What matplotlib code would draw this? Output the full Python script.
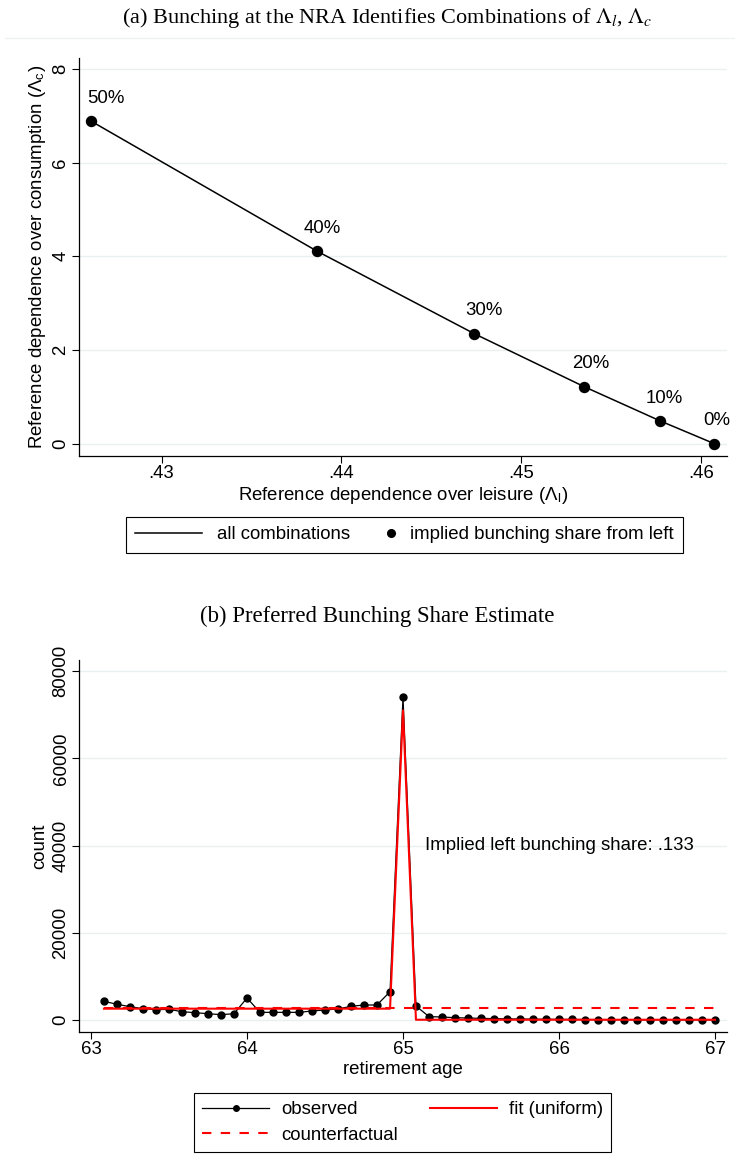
import matplotlib
matplotlib.use("Agg")
import matplotlib.pyplot as plt
from matplotlib.lines import Line2D
from matplotlib.legend_handler import HandlerLine2D

# panel (a): bunching share -> (lambda_l, lambda_c)
share_labels = ["50%", "40%", "30%", "20%", "10%", "0%"]
lam_l = [0.42607, 0.43863, 0.44739, 0.4535, 0.45774, 0.46074]
lam_c = [6.888, 4.113, 2.348, 1.217, 0.484, 0.0]

# panel (b): monthly retirement counts
age = [63.083, 63.167, 63.25, 63.333, 63.417, 63.5, 63.583, 63.667, 63.75, 63.833, 63.917,
       64.0, 64.083, 64.167, 64.25, 64.333, 64.417, 64.5, 64.583, 64.667, 64.75, 64.833, 64.917,
       65.0, 65.083, 65.167, 65.25, 65.333, 65.417, 65.5, 65.583, 65.667, 65.75, 65.833, 65.917,
       66.0, 66.083, 66.167, 66.25, 66.333, 66.417, 66.5, 66.583, 66.667, 66.75, 66.833, 66.917,
       67.0]
observed = [4290, 3600, 3060, 2600, 2370, 2450, 1910, 1680, 1450, 1220, 1450,
            5050, 1760, 1760, 1760, 1760, 2070, 2300, 2530, 3140, 3440, 3440, 6500,
            74000, 3210, 770, 690, 530, 450, 380, 310, 260, 230, 200, 170,
            150, 130, 110, 100, 90, 80, 70, 60, 50, 45, 40, 35,
            30]
fit = [2600, 2600, 2600, 2600, 2600, 2600, 2600, 2600, 2600, 2600, 2600,
       2600, 2600, 2600, 2600, 2600, 2600, 2600, 2600, 2600, 2600, 2600, 2600,
       71000, 60, 60, 60, 60, 60, 60, 60, 60, 60, 60, 60,
       60, 60, 60, 60, 60, 60, 60, 60, 60, 60, 60, 60,
       60]
counterfactual = 2830
bunch_share = ".133"

plt.rcParams["font.family"] = ["Liberation Sans", "DejaVu Sans"]
plt.rcParams["mathtext.fontset"] = "stix"


class RightMarker(HandlerLine2D):
    # put the legend dot at the right end of the key, next to its text
    def get_xdata(self, legend, xdescent, ydescent, width, height, fontsize):
        t = -xdescent + width - 3
        return [t - 1, t + 1], [t]


W, H = 735, 1173
fig = plt.figure(figsize=(W / 100, H / 100), dpi=100)
grid_col = "#e9f0f2"
fs = 13.4

# titles
fig.text(387 / W, 1 - 18 / H, r"(a) Bunching at the NRA Identifies Combinations of $\Lambda_l$, $\Lambda_c$",
         ha="center", va="center", family="Liberation Serif", fontsize=16)
fig.add_artist(Line2D([5 / W, 1], [1 - 38 / H, 1 - 38 / H], color="#edf1f3", lw=1))
fig.text(377 / W, 1 - 616 / H, "(b) Preferred Bunching Share Estimate",
         ha="center", va="center", family="Liberation Serif", fontsize=16.4)

# ---- panel (a)
ax1 = fig.add_axes([79 / W, 1 - 455.7 / H, (727 - 79) / W, (455.7 - 58) / H])
ax1.plot(lam_l, lam_c, color="black", lw=1.1)
ax1.plot(lam_l, lam_c, "o", color="black", ms=7.2, ls="none")
label_dx = [11, 4, 7, 5, 3, 2]
for x, y, s, dx in zip(lam_l, lam_c, share_labels, label_dx):
    ax1.annotate(s, (x, y), xytext=(dx, 16.5), textcoords="offset points",
                 ha="center", va="center", fontsize=fs)
ax1.set_xlim(0.42541, 0.46144)
ax1.set_ylim(-0.256, 8.233)
ax1.set_xticks([0.43, 0.44, 0.45, 0.46])
ax1.set_xticklabels([".43", ".44", ".45", ".46"])
ax1.set_yticks([0, 2, 4, 6, 8])
ax1.set_xlabel(r"Reference dependence over leisure (Λ$_\mathregular{l}$)", fontsize=fs, labelpad=2)
ax1.set_ylabel(r"Reference dependence over consumption (Λ$_\mathregular{c}$)", fontsize=fs, labelpad=3)

dot = Line2D([], [], color="black", marker="o", ms=5.5, ls="none")
leg1 = fig.legend(handles=[Line2D([], [], color="black", lw=1.1), dot],
                  labels=["all combinations", "implied bunching share from left"],
                  handler_map={dot: RightMarker(numpoints=1)},
                  ncol=2, loc="upper left", bbox_to_anchor=(126 / W, 1 - 517 / H),
                  borderaxespad=0, fontsize=fs, frameon=True, fancybox=False,
                  edgecolor="black", framealpha=1, handlelength=3.6, handletextpad=0.8,
                  columnspacing=-1.2, borderpad=0.5)
leg1.get_frame().set_linewidth(0.8)

# ---- panel (b)
ax2 = fig.add_axes([79.3 / W, 1 - 1031.7 / H, (726.7 - 79.3) / W, (1031.7 - 660) / H])
ax2.plot(age, observed, color="black", lw=0.9, marker="o", ms=5)
ax2.plot(age, fit, color="red", lw=1.5)
ax2.hlines(counterfactual, age[0], age[-1], color="red", lw=1.5, linestyles=(0, (4.5, 4.5)))
ax2.text(65.14, 40100, "Implied left bunching share: " + bunch_share, ha="left", va="center", fontsize=fs)
ax2.set_xlim(62.925, 67.075)
ax2.set_ylim(-2683, 82569)
ax2.set_xticks([63, 64, 65, 66, 67])
ax2.set_yticks([0, 20000, 40000, 60000, 80000])
ax2.set_xlabel("retirement age", fontsize=fs, labelpad=2)
ax2.set_ylabel("count", fontsize=fs, labelpad=3)

leg2 = fig.legend(handles=[Line2D([], [], color="black", lw=0.9, marker="o", ms=4),
                           Line2D([], [], color="red", lw=1.5, ls=(0, (4.5, 4.5))),
                           Line2D([], [], color="red", lw=1.5)],
                  labels=["observed", "counterfactual", "fit (uniform)"],
                  ncol=2, loc="upper center", bbox_to_anchor=(402.5 / W, 1 - 1093 / H),
                  borderaxespad=0, fontsize=fs, frameon=True, fancybox=False,
                  edgecolor="black", framealpha=1, handlelength=3.6, handletextpad=0.65,
                  columnspacing=1.7, borderpad=0.45, labelspacing=0.45)
leg2.get_frame().set_linewidth(0.8)

for ax in (ax1, ax2):
    ax.spines["top"].set_visible(False)
    ax.spines["right"].set_visible(False)
    ax.spines["left"].set_linewidth(0.9)
    ax.spines["bottom"].set_linewidth(0.9)
    ax.tick_params(labelsize=fs, length=5, width=0.8, pad=2)
    ax.tick_params(axis="y", labelrotation=90)
    plt.setp(ax.get_yticklabels(), va="center")
    ax.grid(axis="y", color=grid_col, lw=1)
    ax.set_axisbelow(True)

fig.savefig("out.png", dpi=100)
